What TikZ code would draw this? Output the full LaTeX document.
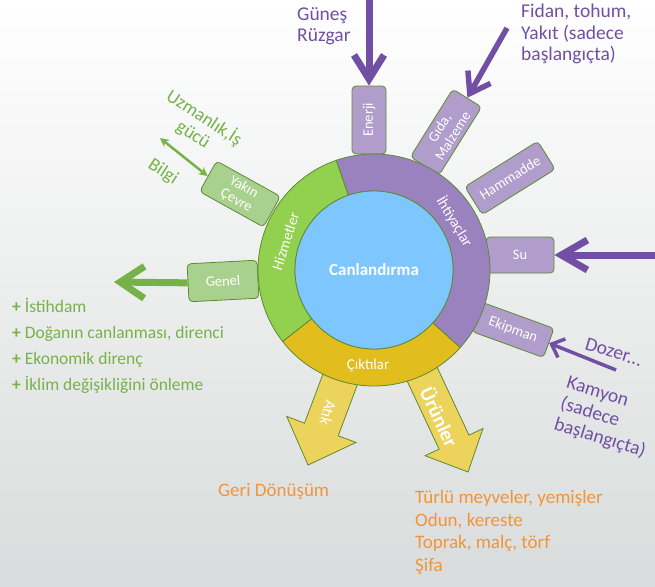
\documentclass[tikz,border=0pt]{standalone}
\usepackage{fontspec}
\setmainfont{Carlito}
\usetikzlibrary{arrows.meta}
\definecolor{ringpurple}{HTML}{9A82BE}
\definecolor{tabpurple}{HTML}{B09DCB}
\definecolor{ringgreen}{HTML}{92D050}
\definecolor{tabgreen}{HTML}{A9D18E}
\definecolor{ringyellow}{HTML}{E2BD1E}
\definecolor{arrowyellow}{HTML}{EBD35C}
\definecolor{coreblue}{HTML}{7DC7FE}
\definecolor{edgegreen}{HTML}{5E8A32}
\definecolor{txtpurple}{HTML}{7150A3}
\definecolor{txtgreen}{HTML}{76B248}
\definecolor{txtorange}{HTML}{F29437}
\definecolor{bggray}{HTML}{D9DCDC}
\begin{document}
\begin{tikzpicture}[x=1pt,y=1pt,
  tab/.style={draw=edgegreen, line width=0.8pt, rounded corners=4pt, text=white,
    font=\fontsize{14.5}{15.5}\selectfont, inner sep=0pt, align=center},
  ptab/.style={tab, fill=tabpurple},
  gtab/.style={tab, fill=tabgreen},
  seg/.style={draw=edgegreen, line width=0.8pt},
  ringlabel/.style={text=white, font=\fontsize{15}{16}\selectfont, inner sep=0pt},
  yarrow/.style={fill=arrowyellow, draw=edgegreen, line width=0.8pt, line join=miter},
  arrowlabel/.style={text=white, inner sep=0pt},
  parrow/.style={draw=txtpurple, line width=7pt},
  garrow/.style={draw=txtgreen, line width=7pt},
  plabel/.style={text=txtpurple, font=\fontsize{19.5}{21.5}\selectfont, align=left, inner sep=0pt},
  glabel/.style={text=txtgreen, font=\fontsize{18.5}{20}\selectfont, align=center, inner sep=0pt},
  olabel/.style={text=txtorange, font=\fontsize{19}{22.7}\selectfont, align=left, inner sep=0pt}
]
\useasboundingbox (0,0) rectangle (655,-586);
\shade[top color=white, bottom color=bggray] (0,0) rectangle (655,-586);

% yellow output arrows
\begin{scope}[shift={(308,-465)}, rotate=-110.6]
  \draw[yarrow] (-120,-18) -- (-38,-18) -- (-38,-37) -- (0,0) -- (-38,37) -- (-38,18) -- (-120,18) -- cycle;
\end{scope}
\begin{scope}[shift={(468,-472)}, rotate=-64.9]
  \draw[yarrow] (-120,-16.5) -- (-33,-16.5) -- (-33,-32) -- (0,0) -- (-33,32) -- (-33,16.5) -- (-120,16.5) -- cycle;
\end{scope}
\node[arrowlabel, font=\fontsize{16}{17}\selectfont, rotate=-106] (atik) at (328,-413) {Atık};
\node[arrowlabel, font=\bfseries\fontsize{20}{21}\selectfont, rotate=-65] (urunler) at (440,-417) {Ürünler};

% tabs
\node[ptab, minimum width=68, minimum height=34, rotate=90] (enerji) at (369,-120) {Enerji};
\node[ptab, minimum width=80, minimum height=34, rotate=58] (gida) at (446,-132) {Gıda,\\Malzeme};
\node[ptab, minimum width=86, minimum height=33, rotate=32] (hammadde) at (510,-178) {Hammadde};
\node[ptab, minimum width=68, minimum height=36] (su) at (520,-255) {Su};
\node[ptab, minimum width=76, minimum height=31, rotate=-20] (ekipman) at (513,-330) {Ekipman};
\node[gtab, minimum width=73, minimum height=35, rotate=-29] (yakin) at (240,-194) {Yakın\\Çevre};
\node[gtab, minimum width=70, minimum height=38, rotate=3] (genel) at (223,-281) {Genel};

% ring
\begin{scope}[shift={(374,-270)}]
  \path[seg, fill=ringpurple] (-42:116pt) arc[start angle=-42, end angle=109, radius=116pt]
     -- (109:79pt) arc[start angle=109, end angle=-42, radius=79pt] -- cycle;
  \path[seg, fill=ringyellow] (-142:116pt) arc[start angle=-142, end angle=-42, radius=116pt]
     -- (-42:79pt) arc[start angle=-42, end angle=-142, radius=79pt] -- cycle;
  \path[seg, fill=ringgreen] (109:116pt) arc[start angle=109, end angle=218, radius=116pt]
     -- (218:79pt) arc[start angle=218, end angle=109, radius=79pt] -- cycle;
  \node[ringlabel, rotate=-59] (ihtiyac) at (31:94pt) {İhtiyaçlar};
  \node[ringlabel, rotate=72] (hizmet) at (162:93pt) {Hizmetler};
  \node[ringlabel] (cikti) at (-93.5:96pt) {Çıktılar};
\end{scope}
\node[circle, fill=coreblue, draw=edgegreen, line width=0.8pt, minimum size=158pt, inner sep=0pt,
  text=white, font=\bfseries\fontsize{17}{18}\selectfont] (core) at (374,-270) {Canlandırma};

% input arrows
\coordinate (g0) at (369,0);
\coordinate (f0) at (507,-28);
\coordinate (s0) at (656,-255);
\coordinate (d0) at (616,-370);
\draw[parrow, -{Straight Barb[length=24pt, width=30pt]}] (g0) -- (enerji.east);
\draw[parrow, line width=5.5pt, -{Straight Barb[length=19pt, width=26pt]}] (f0) -- (gida.east);
\draw[parrow, -{Straight Barb[length=26pt, width=30pt]}] (s0) -- (su.east);
\draw[parrow, line width=3.5pt, -{Straight Barb[length=11pt, width=20pt]}] (d0) -- (ekipman.east);

% green arrows
\coordinate (e0) at (114,-282);
\coordinate (u0) at (160,-138);
\draw[garrow, -{Straight Barb[length=24pt, width=32pt]}] (genel.west) -- (e0);
\draw[garrow, line width=2.5pt, {Stealth[length=9pt, width=9pt]}-{Stealth[length=9pt, width=9pt]}] (u0) -- (yakin.west);

% labels
\node[plabel, anchor=north west] (gunes) at (297,-7) {Güneş\\Rüzgar};
\node[plabel, anchor=north west] (fidan) at (521,-4) {Fidan, tohum,\\Yakıt (sadece\\başlangıçta)};
\node[plabel, rotate=-17] (dozer) at (614,-352) {Dozer...};
\node[plabel, rotate=-17] (kamyon) at (606,-418) {Kamyon\\(sadece\\başlangıçta)};
\node[glabel, rotate=-33] (uzman) at (199,-126) {Uzmanlık,İş\\gücü};
\node[glabel, rotate=-33] (bilgi) at (163,-172) {Bilgi};
\node[text=txtgreen, font=\fontsize{17.5}{26}\selectfont, align=left, inner sep=0pt, anchor=north west] (fayda) at (12,-298)
  {\textbf{+} İstihdam\\\textbf{+} Doğanın canlanması, direnci\\\textbf{+} Ekonomik direnç\\\textbf{+} İklim değişikliğini önleme};
\node[olabel, anchor=base west] (geri) at (218,-496) {Geri Dönüşüm};
\node[olabel, anchor=north west] (urun) at (415,-490) {Türlü meyveler, yemişler\\Odun, kereste\\Toprak, malç, törf\\Şifa};
\end{tikzpicture}
\end{document}
